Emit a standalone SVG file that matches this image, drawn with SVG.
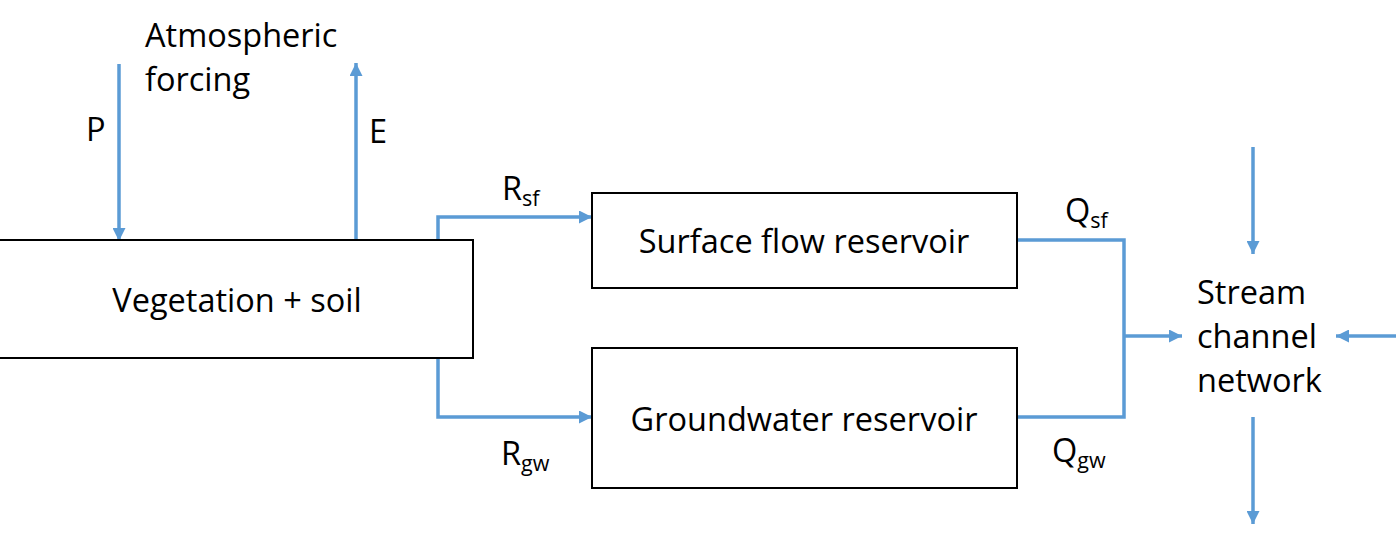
<svg xmlns="http://www.w3.org/2000/svg" width="1396" height="538" viewBox="0 0 1396 538">
<style>
.box{fill:#fff;stroke:#000;stroke-width:2}
.ln{fill:none;stroke:#5B9BD5;stroke-width:3.5}
text{font-family:"Open Sans","Noto Sans",sans-serif;font-size:32.5px;fill:#000}
.sub{font-size:21.5px}
</style>
<defs>
<marker id="ah" markerUnits="userSpaceOnUse" markerWidth="13" markerHeight="13" viewBox="0 0 12 12" refX="12" refY="6" orient="auto">
<path d="M0,0 L12,6 L0,12 Z" fill="#5B9BD5"/>
</marker>
</defs>
<rect width="1396" height="538" fill="#fff"/>
<g id="connectors">
<line class="ln" x1="119" y1="64" x2="119" y2="241" marker-end="url(#ah)"/>
<line class="ln" x1="356" y1="240" x2="356" y2="63" marker-end="url(#ah)"/>
<polyline class="ln" points="438,240 438,217 592,217" marker-end="url(#ah)"/>
<polyline class="ln" points="438,358 438,417 592,417" marker-end="url(#ah)"/>
<polyline class="ln" points="1017,240 1124,240 1124,417 1017,417"/>
<line class="ln" x1="1124" y1="336" x2="1182" y2="336" marker-end="url(#ah)"/>
<line class="ln" x1="1396" y1="336" x2="1336" y2="336" marker-end="url(#ah)"/>
<line class="ln" x1="1253" y1="147" x2="1253" y2="254" marker-end="url(#ah)"/>
<line class="ln" x1="1253" y1="417" x2="1253" y2="524" marker-end="url(#ah)"/>
</g>
<g id="atmosphere">
<text x="145" y="47">Atmospheric</text>
<text x="145" y="91">forcing</text>
</g>
<g id="labels">
<text x="86" y="141">P</text>
<text x="369" y="143">E</text>
<text x="502" y="200">R<tspan class="sub" dy="6">sf</tspan></text>
<text x="501" y="465">R<tspan class="sub" dy="6">gw</tspan></text>
<text x="1065" y="222">Q<tspan class="sub" dy="6">sf</tspan></text>
<text x="1052" y="462">Q<tspan class="sub" dy="6">gw</tspan></text>
</g>
<g id="vegetation">
<rect class="box" x="-1" y="240" width="474" height="118"/>
<text x="237" y="312" text-anchor="middle">Vegetation + soil</text>
</g>
<g id="surface">
<rect class="box" x="592" y="193" width="425" height="95"/>
<text x="804" y="253" text-anchor="middle">Surface flow reservoir</text>
</g>
<g id="groundwater">
<rect class="box" x="592" y="348" width="425" height="140"/>
<text x="804" y="431" text-anchor="middle">Groundwater reservoir</text>
</g>
<g id="stream">
<text x="1197" y="304">Stream</text>
<text x="1197" y="348">channel</text>
<text x="1197" y="392">network</text>
</g>
</svg>
